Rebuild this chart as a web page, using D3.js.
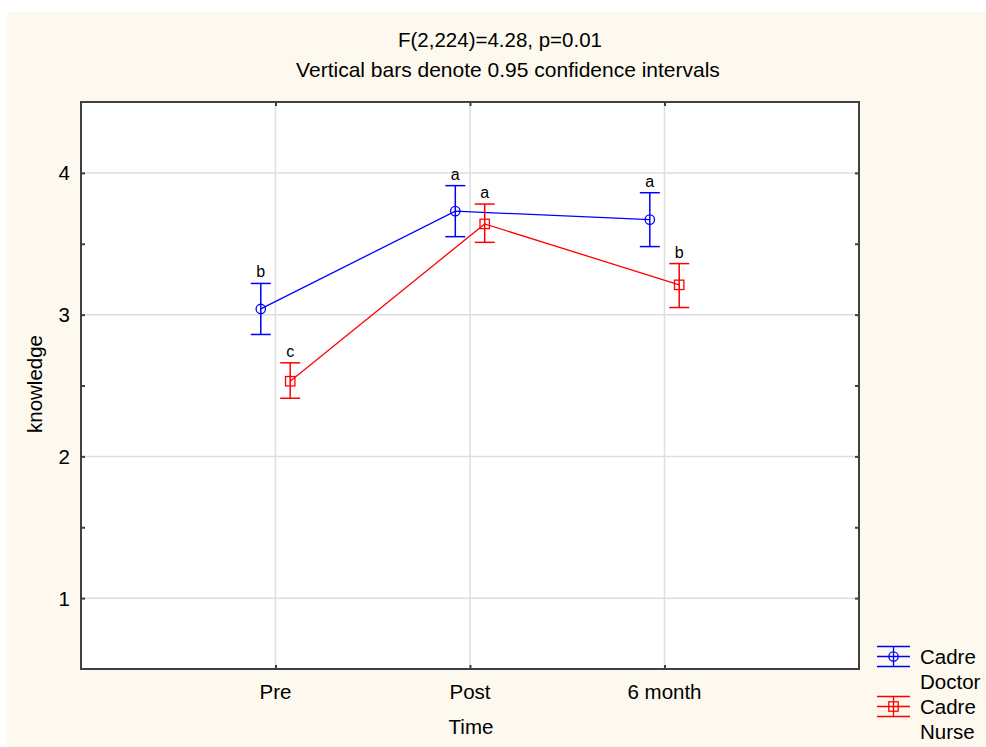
<!DOCTYPE html>
<html>
<head>
<meta charset="utf-8">
<script src="https://cdn.jsdelivr.net/npm/d3@7"></script>
<style>
  html, body { margin: 0; padding: 0; background: #ffffff; }
  svg { display: block; font-family: "Liberation Sans", Arial, sans-serif; }
</style>
</head>
<body>
<svg id="chart" width="986" height="747"></svg>
<script>
// ---- data ----
const categories = ["Pre", "Post", "6 month"];
const seriesNames = ["Cadre Doctor", "Cadre Nurse"];
const doctorMean = [3.04, 3.73, 3.67];
const doctorLow  = [2.86, 3.55, 3.48];
const doctorHigh = [3.22, 3.91, 3.86];
const doctorLetters = ["b", "a", "a"];
const nurseMean = [2.53, 3.64, 3.21];
const nurseLow  = [2.41, 3.51, 3.05];
const nurseHigh = [2.66, 3.78, 3.36];
const nurseLetters = ["c", "a", "b"];
const yTicks = [1, 2, 3, 4];
const yMinorTicks = [1.5, 2.5, 3.5];
const titleText = "F(2,224)=4.28, p=0.01";
const subtitleText = "Vertical bars denote 0.95 confidence intervals";
const xLabel = "Time";
const yLabel = "knowledge";

// ---- layout ----
const svg = d3.select("#chart");
const W = 986, H = 747;
const plot = { left: 81, top: 102, right: 859, bottom: 669 };
const fs = 20.5;

svg.append("rect").attr("x", 7).attr("y", 12).attr("width", W - 7).attr("height", H - 12)
  .attr("fill", "#fdf9ee");

const x = d3.scalePoint().domain(categories).range([plot.left, plot.right]).padding(1);
const y = d3.scaleLinear().domain([0.5, 4.5]).range([plot.bottom, plot.top]);

svg.append("rect").attr("x", plot.left).attr("y", plot.top)
  .attr("width", plot.right - plot.left).attr("height", plot.bottom - plot.top)
  .attr("fill", "#ffffff");

// grid
const grid = svg.append("g");
grid.selectAll("line.h").data(yTicks).enter().append("line")
  .attr("x1", plot.left).attr("x2", plot.right)
  .attr("y1", d => y(d)).attr("y2", d => y(d))
  .attr("stroke", "#dedede").attr("stroke-width", 1.5);
grid.selectAll("line.v").data(categories).enter().append("line")
  .attr("y1", plot.top).attr("y2", plot.bottom)
  .attr("x1", d => x(d)).attr("x2", d => x(d))
  .attr("stroke", "#dedede").attr("stroke-width", 1.5);

// axes (ticks inward)
const frameColor = "#404040";
const tickLen = 4;
const axL = d3.axisRight(y).tickValues(yTicks.concat(yMinorTicks)).tickSize(tickLen).tickFormat("");
const axR = d3.axisLeft(y).tickValues(yTicks.concat(yMinorTicks)).tickSize(tickLen).tickFormat("");
const axB = d3.axisTop(x).tickSize(tickLen).tickFormat("");
const axT = d3.axisBottom(x).tickSize(tickLen).tickFormat("");
function styleAxis(g) {
  g.select(".domain").remove();
  g.selectAll(".tick line").attr("stroke", frameColor).attr("stroke-width", 2);
}
svg.append("g").attr("transform", `translate(${plot.left},0)`).call(axL).call(styleAxis);
svg.append("g").attr("transform", `translate(${plot.right},0)`).call(axR).call(styleAxis);
svg.append("g").attr("transform", `translate(0,${plot.bottom})`).call(axB).call(styleAxis);
svg.append("g").attr("transform", `translate(0,${plot.top})`).call(axT).call(styleAxis);

svg.append("rect").attr("x", plot.left).attr("y", plot.top)
  .attr("width", plot.right - plot.left).attr("height", plot.bottom - plot.top)
  .attr("fill", "none").attr("stroke", frameColor).attr("stroke-width", 2);

// tick labels
svg.append("g").selectAll("text").data(yTicks).enter().append("text")
  .attr("x", 70).attr("y", d => y(d) + 7.5)
  .attr("text-anchor", "end").attr("font-size", fs).attr("fill", "#000")
  .text(d => d);
svg.append("g").selectAll("text").data(categories).enter().append("text")
  .attr("x", d => x(d)).attr("y", 699)
  .attr("text-anchor", "middle").attr("font-size", fs).attr("fill", "#000")
  .text(d => d);

// titles
svg.append("text").attr("x", 500).attr("y", 47).attr("text-anchor", "middle")
  .attr("font-size", fs).text(titleText);
svg.append("text").attr("x", 508).attr("y", 77).attr("text-anchor", "middle")
  .attr("font-size", 21).text(subtitleText);
svg.append("text").attr("x", 471).attr("y", 734).attr("text-anchor", "middle")
  .attr("font-size", fs).text(xLabel);
svg.append("text").attr("transform", "translate(42,384) rotate(-90)")
  .attr("text-anchor", "middle").attr("font-size", fs).text(yLabel);

// series
const series = [
  { name: seriesNames[0], mean: doctorMean, low: doctorLow, high: doctorHigh, letters: doctorLetters, color: "#0000ff", offset: -14.7, marker: "circle" },
  { name: seriesNames[1], mean: nurseMean, low: nurseLow, high: nurseHigh, letters: nurseLetters, color: "#ff0000", offset: 14.7, marker: "square" }
];
const capW = 10;
series.forEach(s => {
  const pts = categories.map((c, i) => ({ c, i, m: s.mean[i], lo: s.low[i], hi: s.high[i], l: s.letters[i] }));
  const px = d => x(d.c) + s.offset;
  const g = svg.append("g");
  g.append("path").datum(pts)
    .attr("d", d3.line().x(px).y(d => y(d.m)))
    .attr("fill", "none").attr("stroke", s.color).attr("stroke-width", 1.3);
  const eb = g.selectAll("g.eb").data(pts).enter().append("g");
  eb.append("line").attr("x1", px).attr("x2", px).attr("y1", d => y(d.lo)).attr("y2", d => y(d.hi))
    .attr("stroke", s.color).attr("stroke-width", 1.5);
  eb.append("line").attr("x1", d => px(d) - capW).attr("x2", d => px(d) + capW)
    .attr("y1", d => y(d.hi)).attr("y2", d => y(d.hi)).attr("stroke", s.color).attr("stroke-width", 1.5);
  eb.append("line").attr("x1", d => px(d) - capW).attr("x2", d => px(d) + capW)
    .attr("y1", d => y(d.lo)).attr("y2", d => y(d.lo)).attr("stroke", s.color).attr("stroke-width", 1.5);
  if (s.marker === "circle") {
    eb.append("circle").attr("cx", px).attr("cy", d => y(d.m)).attr("r", 4.7)
      .attr("fill", "none").attr("stroke", s.color).attr("stroke-width", 1.3);
  } else {
    eb.append("rect").attr("x", d => px(d) - 4.7).attr("y", d => y(d.m) - 4.7)
      .attr("width", 9.4).attr("height", 9.4)
      .attr("fill", "none").attr("stroke", s.color).attr("stroke-width", 1.3);
  }
  eb.append("text").attr("x", px).attr("y", d => y(d.hi) - 6)
    .attr("text-anchor", "middle").attr("font-size", 16).attr("fill", "#000")
    .text(d => d.l);
});

// legend
const legend = svg.append("g");
series.forEach((s, k) => {
  const cy = 656.5 + k * 50;
  const x0 = 877, x1 = 910, xm = (x0 + x1) / 2;
  const lg = legend.append("g");
  [-10, 0, 10].forEach(dy => {
    lg.append("line").attr("x1", x0).attr("x2", x1).attr("y1", cy + dy).attr("y2", cy + dy)
      .attr("stroke", s.color).attr("stroke-width", 1.3);
  });
  lg.append("line").attr("x1", xm).attr("x2", xm).attr("y1", cy - 10).attr("y2", cy + 10)
    .attr("stroke", s.color).attr("stroke-width", 1.3);
  if (s.marker === "circle") {
    lg.append("circle").attr("cx", xm).attr("cy", cy).attr("r", 4.7)
      .attr("fill", "none").attr("stroke", s.color).attr("stroke-width", 1.3);
  } else {
    lg.append("rect").attr("x", xm - 4.7).attr("y", cy - 4.7).attr("width", 9.4).attr("height", 9.4)
      .attr("fill", "none").attr("stroke", s.color).attr("stroke-width", 1.3);
  }
  const words = s.name.split(" ");
  words.forEach((w, j) => {
    lg.append("text").attr("x", 920).attr("y", cy + 7.5 + j * 24.5)
      .attr("font-size", fs).attr("fill", "#000").text(w);
  });
});
</script>
</body>
</html>
